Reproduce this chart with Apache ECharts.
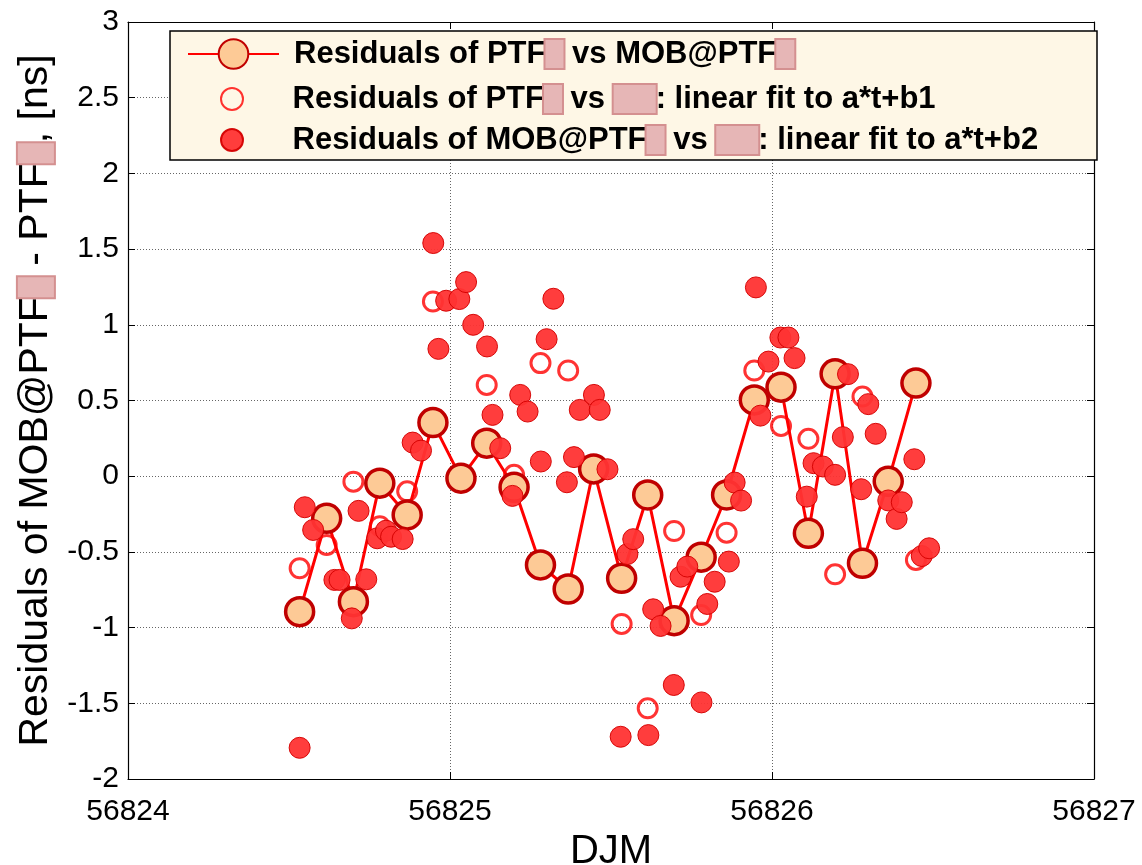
<!DOCTYPE html>
<html>
<head>
<meta charset="utf-8">
<script src="https://cdn.jsdelivr.net/npm/echarts@6/dist/echarts.min.js"></script>
<style>html,body{margin:0;padding:0;background:#fff}#c{width:1142px;height:865px}</style>
</head>
<body>
<div id="c"></div>
<script>
// ---- data ----
const seriesNames = [
  'Residuals of PTF[b] vs MOB@PTF[b]',
  'Residuals of PTF[b] vs [w]: linear fit to a*t+b1',
  'Residuals of MOB@PTF[b] vs [w]: linear fit to a*t+b2'
];
const xTickLabels = ['56824', '56825', '56826', '56827'];
const yTickLabels = ['-2', '-1.5', '-1', '-0.5', '0', '0.5', '1', '1.5', '2', '2.5', '3'];

// Residuals of PTF vs MOB@PTF (big markers, joined)
const djmA = [56824.533, 56824.617, 56824.700, 56824.782, 56824.867, 56824.947, 56825.034, 56825.114,
  56825.199, 56825.281, 56825.367, 56825.446, 56825.533, 56825.614, 56825.696, 56825.780,
  56825.859, 56825.945, 56826.028, 56826.113, 56826.196, 56826.281, 56826.361, 56826.447];
const resA = [-0.895, -0.278, -0.829, -0.046, -0.256, 0.354, -0.013, 0.218,
  -0.073, -0.586, -0.745, 0.048, -0.674, -0.124, -0.954, -0.535,
  -0.124, 0.504, 0.588, -0.377, 0.676, -0.575, -0.034, 0.615];

// Residuals of PTF vs ...: linear fit (open markers)
const djmB = djmA.slice();
const resB = [-0.608, -0.454, -0.036, -0.330, -0.100, 1.154, -0.010, 0.603,
  0.009, 0.747, 0.698, 0.050, -0.976, -1.533, -0.362, -0.917,
  -0.373, 0.698, 0.332, 0.247, -0.648, 0.526, -0.040, -0.553];

// Residuals of MOB@PTF vs ...: linear fit (filled markers)
const djmC = [56824.533, 56824.549, 56824.575, 56824.641, 56824.657, 56824.695, 56824.716, 56824.740,
  56824.774, 56824.801, 56824.817, 56824.853, 56824.884, 56824.910, 56824.948, 56824.964,
  56824.988, 56825.029, 56825.050, 56825.072, 56825.115, 56825.132, 56825.156, 56825.194,
  56825.218, 56825.241, 56825.282, 56825.300, 56825.321, 56825.363, 56825.385, 56825.403,
  56825.447, 56825.465, 56825.489, 56825.530, 56825.551, 56825.569, 56825.616, 56825.631,
  56825.654, 56825.695, 56825.716, 56825.737, 56825.781, 56825.799, 56825.822, 56825.866,
  56825.884, 56825.904, 56825.950, 56825.964, 56825.989, 56826.026, 56826.051, 56826.070,
  56826.108, 56826.129, 56826.158, 56826.196, 56826.220, 56826.236, 56826.277, 56826.299,
  56826.322, 56826.361, 56826.387, 56826.403, 56826.442, 56826.465, 56826.488];
const resC = [-1.794, -0.205, -0.355, -0.685, -0.685, -0.939, -0.229, -0.681,
  -0.410, -0.360, -0.400, -0.415, 0.222, 0.169, 1.540, 0.841,
  1.159, 1.170, 1.282, 1.000, 0.857, 0.405, 0.185, -0.130,
  0.537, 0.427, 0.097, 0.905, 1.172, -0.040, 0.126, 0.438,
  0.537, 0.438, 0.046, -1.721, -0.514, -0.416, -1.710, -0.879,
  -0.989, -1.379, -0.664, -0.597, -1.494, -0.844, -0.697, -0.564,
  -0.042, -0.161, 1.247, 0.400, 0.757, 0.916, 0.916, 0.780,
  -0.135, 0.086, 0.064, 0.009, 0.258, 0.674, -0.086, 0.476,
  0.280, -0.160, -0.282, -0.172, 0.112, -0.527, -0.476];

// ---- chart ----
const FONT = 'Liberation Sans, Arial, sans-serif';
const pinkBox = (w, h) => ({ width: w, height: h, backgroundColor: '#E6B6B6', borderColor: '#D49090', borderWidth: 2 });
const toRich = s => s.replace(/\[b\]/g, '{b| }').replace(/\[w\]/g, '{w| }');
const zip = (xs, ys) => xs.map((x, i) => [x, ys[i]]);

const chart = echarts.init(document.getElementById('c'), null, { renderer: 'canvas' });
const legendText = {
  fontFamily: FONT, fontSize: 31, fontWeight: 'bold', color: '#000', lineHeight: 30,
  padding: [0, 0, 0, 10],
  rich: { b: pinkBox(18, 28), w: pinkBox(42, 28) }
};
const option = {
  animation: false,
  backgroundColor: '#fff',
  grid: { left: 128, right: 48, top: 22, bottom: 86, outerBoundsMode: 'none', containLabel: false },
  graphic: [{
    type: 'rect', z: 3, silent: true,
    shape: { x: 170, y: 31, width: 927, height: 129 },
    style: { fill: '#FEF7E6', stroke: '#000', lineWidth: 1.5 }
  }],
  legend: [{
    data: [seriesNames[0]], left: 187, top: 38, itemWidth: 91, itemHeight: 37,
    padding: 0, z: 5, selectedMode: false,
    formatter: toRich, textStyle: legendText
  }, {
    data: [seriesNames[1], seriesNames[2]], orient: 'vertical', left: 220, top: 83,
    itemWidth: 91, itemHeight: 22, itemGap: 9, padding: 0, z: 5, selectedMode: false,
    formatter: toRich, textStyle: legendText
  }],
  xAxis: [{
    type: 'value', min: 56824, max: 56827, interval: 1,
    name: 'DJM', nameLocation: 'middle', nameGap: 47,
    nameTextStyle: { fontFamily: FONT, fontSize: 40, color: '#000' },
    axisLine: { onZero: false, lineStyle: { color: '#000', width: 1.2 } },
    axisTick: { inside: true, length: 7, lineStyle: { color: '#000' } },
    axisLabel: { fontFamily: FONT, fontSize: 30, color: '#000', margin: 18,
      formatter: (v, i) => xTickLabels[i] },
    splitLine: { show: true, lineStyle: { color: '#666', type: [1, 2], width: 1 } }
  }, {
    type: 'value', min: 56824, max: 56827, interval: 1, position: 'top',
    axisLine: { onZero: false, lineStyle: { color: '#000', width: 1.2 } },
    axisTick: { inside: true, length: 7, lineStyle: { color: '#000' } },
    axisLabel: { show: false }, splitLine: { show: false }
  }],
  yAxis: [{
    type: 'value', min: -2, max: 3, interval: 0.5,
    name: toRich('Residuals of MOB@PTF[b] - PTF[b], [ns]'), nameLocation: 'middle', nameGap: 70,
    nameTextStyle: { fontFamily: FONT, fontSize: 41, color: '#000',
      rich: { b: pinkBox(20, 36) } },
    axisLine: { onZero: false, lineStyle: { color: '#000', width: 1.2 } },
    axisTick: { inside: true, length: 7, lineStyle: { color: '#000' } },
    axisLabel: { fontFamily: FONT, fontSize: 30, color: '#000', margin: 9,
      formatter: (v, i) => yTickLabels[i] },
    splitLine: { show: true, lineStyle: { color: '#666', type: [1, 2], width: 1 } }
  }, {
    type: 'value', min: -2, max: 3, interval: 0.5, position: 'right',
    axisLine: { onZero: false, lineStyle: { color: '#000', width: 1.2 } },
    axisTick: { inside: true, length: 7, lineStyle: { color: '#000' } },
    axisLabel: { show: false }, splitLine: { show: false }
  }],
  series: [{
    name: seriesNames[0], type: 'line', z: 3,
    data: zip(djmA, resA),
    symbol: 'circle', symbolSize: 28,
    lineStyle: { color: '#FF0000', width: 3 },
    itemStyle: { color: '#FDCA96', borderColor: '#C00000', borderWidth: 3.5 },
    emphasis: { disabled: true }
  }, {
    name: seriesNames[1], type: 'scatter', z: 2,
    data: zip(djmB, resB),
    symbol: 'circle', symbolSize: 19,
    itemStyle: { color: 'rgba(255,255,255,0)', borderColor: '#FF0000', borderWidth: 3 },
    emphasis: { disabled: true }
  }, {
    name: seriesNames[2], type: 'scatter', z: 4,
    data: zip(djmC, resC),
    symbol: 'circle', symbolSize: 21,
    itemStyle: { color: '#FF3333', borderColor: '#D40000', borderWidth: 1, opacity: 0.95 },
    emphasis: { disabled: true }
  }]
};
chart.setOption(option);
</script>
</body>
</html>
